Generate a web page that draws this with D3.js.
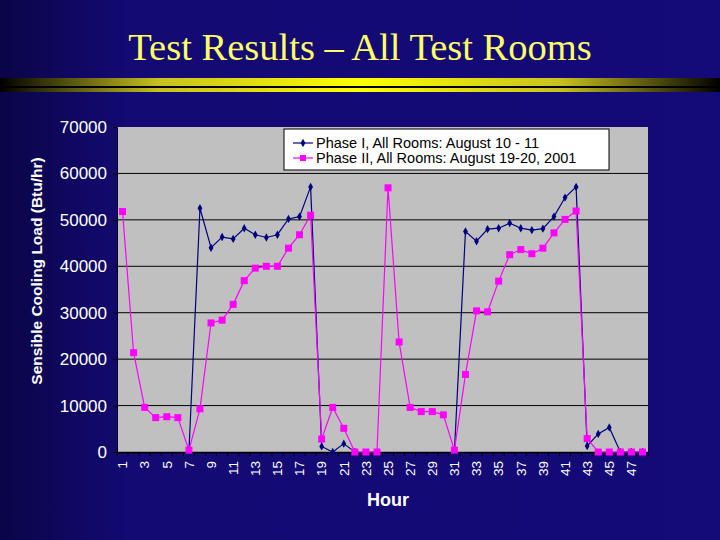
<!DOCTYPE html>
<html>
<head>
<meta charset="utf-8">
<script src="https://cdn.jsdelivr.net/npm/d3@7"></script>
<style>
  body { margin: 0; background: #130a73; }
  svg { display: block; }
  .tick-label { font-family: Arial, "Liberation Sans", sans-serif; fill: #fff; }
</style>
</head>
<body>
<script>
var width = 720;
var height = 540;

// hours on the category axis
var hours = d3.range(1, 49);
var hourLabels = hours.filter(function(h){ return h % 2 == 1; });
var yTicks = [0, 10000, 20000, 30000, 40000, 50000, 60000, 70000];

// Phase I (null = no reading)
var phase1 = [null, null, null, null, null, null, 0, 52500,
	44000, 46300, 45900, 48200, 46800, 46200, 46800, 50200,
	50700, 57100, 1200, 0, 1800, 0, null, null,
	null, null, null, null, null, null, 0, 47500,
	45400, 48000, 48200, 49300, 48200, 47800, 48100, 50700,
	54800, 57100, 1300, 3900, 5300, 0, 0, 0];

// Phase II
var phase2 = [51800, 21400, 9600, 7400, 7600, 7400, 400, 9300,
	27800, 28400, 31800, 36900, 39600, 40000, 40000, 43900,
	46800, 51000, 2800, 9600, 5100, 0, 0, 0,
	56900, 23700, 9600, 8700, 8700, 8000, 400, 16700,
	30400, 30200, 36800, 42500, 43600, 42700, 43900, 47200,
	50100, 51900, 2900, 0, 0, 0, 0, 0];

var seriesNames = ["Phase I, All Rooms: August 10 - 11", "Phase II, All Rooms: August 19-20, 2001"];

var canvas = d3.select("body")
	.append("svg")
	.attr("width", width)
	.attr("height", height);

// background with darker left edge
var defs = canvas.append("defs");
var bg = defs.append("linearGradient").attr("id", "bg");
bg.append("stop").attr("offset", "0%").attr("stop-color", "#0a0548");
bg.append("stop").attr("offset", "18%").attr("stop-color", "#130a73");
bg.append("stop").attr("offset", "100%").attr("stop-color", "#140a78");

var bar = defs.append("linearGradient").attr("id", "bar");
bar.append("stop").attr("offset", "0%").attr("stop-color", "#000000");
bar.append("stop").attr("offset", "22%").attr("stop-color", "#c8c020");
bar.append("stop").attr("offset", "50%").attr("stop-color", "#ffff00");
bar.append("stop").attr("offset", "78%").attr("stop-color", "#c8c020");
bar.append("stop").attr("offset", "100%").attr("stop-color", "#000000");

canvas.append("rect")
	.attr("width", width)
	.attr("height", height)
	.attr("fill", "url(#bg)");

// title and the two rules underneath
canvas.append("text")
	.attr("x", 360)
	.attr("y", 60)
	.attr("text-anchor", "middle")
	.style("font-family", "'Liberation Serif', 'Times New Roman', serif")
	.style("font-size", "38.5px")
	.attr("fill", "#ffff66")
	.text("Test Results \u2013 All Test Rooms");

canvas.append("rect").attr("x", 0).attr("y", 78).attr("width", width).attr("height", 8).attr("fill", "url(#bar)");
canvas.append("rect").attr("x", 0).attr("y", 86).attr("width", width).attr("height", 2).attr("fill", "#000");
canvas.append("rect").attr("x", 0).attr("y", 88).attr("width", width).attr("height", 4).attr("fill", "url(#bar)");

// plot area
var plotLeft = 117, plotRight = 648, plotTop = 127, plotBottom = 452;

var x = d3.scaleBand().domain(hours).range([plotLeft, plotRight]);
var y = d3.scaleLinear().domain([0, 70000]).range([plotBottom, plotTop]);
function cx(h){ return x(h) + x.bandwidth() / 2; }

canvas.append("rect")
	.attr("x", plotLeft)
	.attr("y", plotTop)
	.attr("width", plotRight - plotLeft)
	.attr("height", plotBottom - plotTop)
	.attr("fill", "#c0c0c0");

canvas.append("g")
	.selectAll("line")
	.data(yTicks.filter(function(d){ return d > 0 && d < 70000; }))
	.enter()
		.append("line")
		.attr("x1", plotLeft)
		.attr("x2", plotRight)
		.attr("y1", function(d){ return y(d); })
		.attr("y2", function(d){ return y(d); })
		.attr("stroke", "#000")
		.attr("stroke-width", 1);

// y axis
var yAxis = canvas.append("g")
	.attr("transform", "translate(" + plotLeft + ",0)")
	.call(d3.axisLeft(y).tickValues(yTicks).tickSize(4).tickPadding(6).tickFormat(d3.format("d")));
yAxis.select(".domain").attr("stroke", "#000");
yAxis.selectAll(".tick line").attr("stroke", "#000");
yAxis.selectAll("text")
	.classed("tick-label", true)
	.attr("fill", "#fff")
	.style("font-size", "17px")
	.style("font-family", "Arial, 'Liberation Sans', sans-serif");

// x axis: labels on odd hours, ticks on band edges
var xAxis = canvas.append("g")
	.attr("transform", "translate(0," + plotBottom + ")")
	.call(d3.axisBottom(x).tickValues(hourLabels).tickSize(0).tickPadding(0));
xAxis.select(".domain").attr("stroke", "#000").attr("stroke-width", 1.5);
xAxis.selectAll("text")
	.classed("tick-label", true)
	.attr("fill", "#fff")
	.style("font-size", "13.5px")
	.style("font-family", "Arial, 'Liberation Sans', sans-serif")
	.attr("text-anchor", "end")
	.attr("transform", "translate(0,9) rotate(-90)")
	.attr("x", 0)
	.attr("y", 0)
	.attr("dy", "0.35em");

canvas.append("g")
	.selectAll("line")
	.data(hours.concat([49]))
	.enter()
		.append("line")
		.attr("x1", function(h){ return h == 49 ? plotRight : x(h); })
		.attr("x2", function(h){ return h == 49 ? plotRight : x(h); })
		.attr("y1", plotBottom)
		.attr("y2", plotBottom + 4)
		.attr("stroke", "#000");

// axis titles
canvas.append("text")
	.attr("transform", "translate(42,271) rotate(-90)")
	.attr("text-anchor", "middle")
	.style("font-family", "Arial, 'Liberation Sans', sans-serif")
	.style("font-size", "15.5px")
	.style("font-weight", "bold")
	.attr("fill", "#fff")
	.text("Sensible Cooling Load (Btu/hr)");

canvas.append("text")
	.attr("x", 388)
	.attr("y", 506)
	.attr("text-anchor", "middle")
	.style("font-family", "Arial, 'Liberation Sans', sans-serif")
	.style("font-size", "18px")
	.style("font-weight", "bold")
	.attr("fill", "#fff")
	.text("Hour");

// series
function addSeries(values, color, symbol, size, lineWidth){
	var pts = hours.map(function(h, i){ return {h: h, v: values[i]}; });
	var line = d3.line()
		.defined(function(d){ return d.v !== null; })
		.x(function(d){ return cx(d.h); })
		.y(function(d){ return y(d.v); });
	canvas.append("path")
		.datum(pts)
		.attr("d", line)
		.attr("fill", "none")
		.attr("stroke", color)
		.attr("stroke-width", lineWidth);
	canvas.append("g")
		.selectAll("path")
		.data(pts.filter(function(d){ return d.v !== null; }))
		.enter()
			.append("path")
			.attr("d", d3.symbol().type(symbol).size(size))
			.attr("transform", function(d){ return "translate(" + cx(d.h) + "," + y(d.v) + ")"; })
			.attr("fill", color);
}

addSeries(phase1, "#000080", d3.symbolDiamond, 20, 1.2);
addSeries(phase2, "#ff00ff", d3.symbolSquare, 49, 1.2);

// legend
var lg = canvas.append("g").attr("transform", "translate(284,129)");
lg.append("rect")
	.attr("width", 325)
	.attr("height", 41)
	.attr("fill", "#fff")
	.attr("stroke", "#000");

var legendItems = [
	{name: seriesNames[0], color: "#000080", symbol: d3.symbolDiamond, size: 20},
	{name: seriesNames[1], color: "#ff00ff", symbol: d3.symbolSquare, size: 36}
];
legendItems.forEach(function(d, i){
	var ly = 14 + i * 15;
	lg.append("line")
		.attr("x1", 9).attr("x2", 29)
		.attr("y1", ly).attr("y2", ly)
		.attr("stroke", d.color)
		.attr("stroke-width", 1.2);
	lg.append("path")
		.attr("d", d3.symbol().type(d.symbol).size(d.size))
		.attr("transform", "translate(19," + ly + ")")
		.attr("fill", d.color);
	lg.append("text")
		.attr("x", 32)
		.attr("y", ly + 5)
		.style("font-family", "Arial, 'Liberation Sans', sans-serif")
		.style("font-size", "14.5px")
		.attr("fill", "#000")
		.text(d.name);
});
</script>
</body>
</html>
